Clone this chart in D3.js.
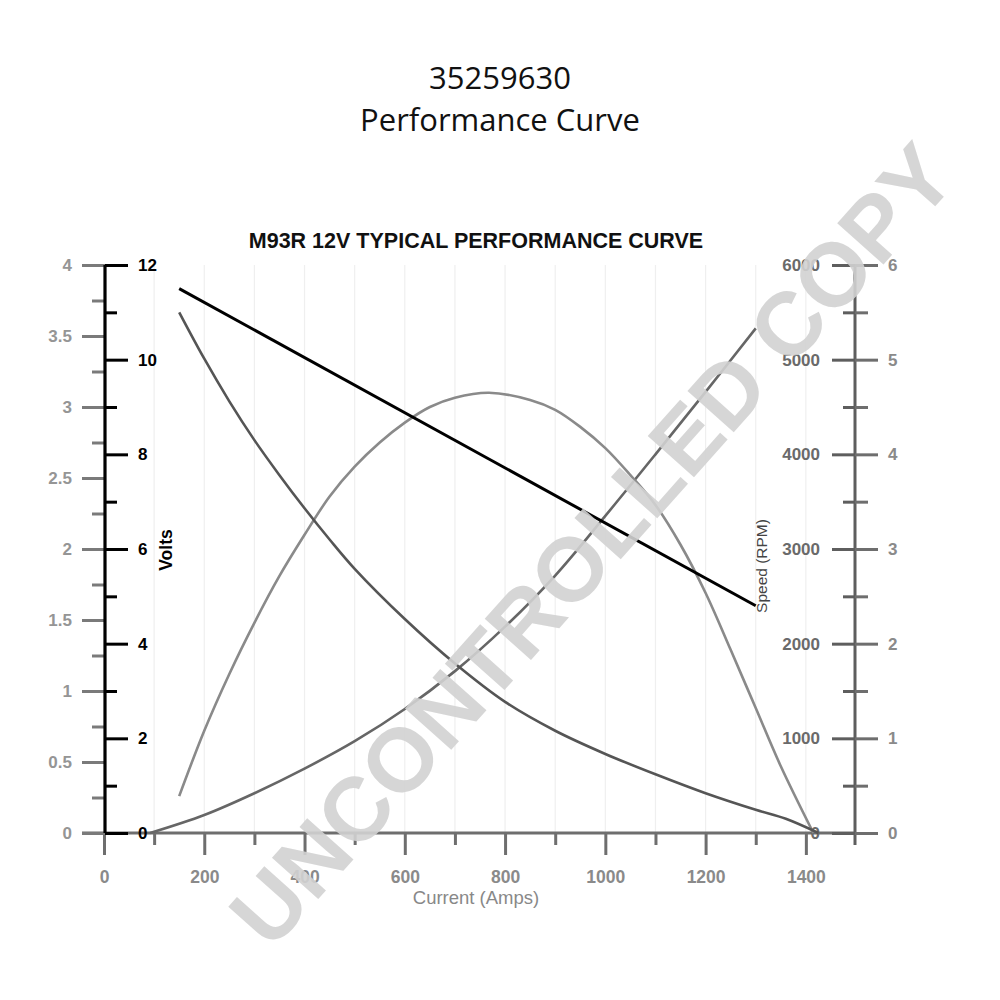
<!DOCTYPE html>
<html>
<head>
<meta charset="utf-8">
<script src="https://cdn.jsdelivr.net/npm/d3@7"></script>
<style>
  html, body { margin: 0; padding: 0; background: #fff; }
  svg { display: block; }
</style>
</head>
<body>
<svg id="chart" width="1000" height="1000"></svg>
<script>
// ---------- data ----------
const titleLines = ["35259630", "Performance Curve"];
const chartTitle = "M93R 12V TYPICAL PERFORMANCE CURVE";
const watermark = "UNCONTROLLED COPY";

const xTicksMajor = [0, 200, 400, 600, 800, 1000, 1200, 1400];
const xTicksMinor = [100, 300, 500, 700, 900, 1100, 1300];
const gridAmps = [100, 200, 300, 400, 500, 600, 700, 800, 900, 1000, 1100, 1200, 1300, 1400];
const leftTicksMajor = [0, 0.5, 1, 1.5, 2, 2.5, 3, 3.5, 4];
const leftTicksMinor = [0.25, 0.75, 1.25, 1.75, 2.25, 2.75, 3.25, 3.75];
const voltTicksMajor = [0, 2, 4, 6, 8, 10, 12];
const voltTicksMinor = [1, 3, 5, 7, 9, 11];
const rpmTicksMajor = [0, 1000, 2000, 3000, 4000, 5000, 6000];
const rpmTicksMinor = [500, 1500, 2500, 3500, 4500, 5500];
const rightTicksMajor = [0, 1, 2, 3, 4, 5, 6];

// Volts (left inner axis, 0-12)
const voltAmps = [150, 1300];
const voltValues = [11.5, 4.8];

// Speed RPM (right inner axis, 0-6000)
const speedAmps = [150, 200, 250, 300, 350, 400, 450, 500, 600, 700, 800, 900, 1000, 1100, 1200, 1300, 1360, 1425];
const speedValues = [5500, 5010, 4560, 4150, 3780, 3430, 3100, 2790, 2260, 1790, 1385, 1080, 835, 620, 420, 245, 150, 0];

// Power curve (left outer axis, 0-4)
const powerAmps = [150, 200, 250, 300, 350, 400, 450, 500, 550, 600, 650, 700, 768, 850, 900, 950, 1000, 1050, 1100, 1150, 1200, 1250, 1300, 1350, 1415];
const powerValues = [0.26, 0.72, 1.12, 1.48, 1.81, 2.10, 2.37, 2.58, 2.75, 2.89, 3.00, 3.065, 3.10, 3.05, 2.98, 2.86, 2.71, 2.52, 2.31, 2.03, 1.69, 1.29, 0.88, 0.47, 0];

// Torque curve (right outer axis, 0-6)
const torqueAmps = [92, 200, 300, 400, 500, 600, 700, 800, 900, 1000, 1100, 1200, 1300];
const torqueValues = [0, 0.19, 0.42, 0.68, 0.97, 1.31, 1.71, 2.18, 2.72, 3.35, 4.00, 4.66, 5.33];

// ---------- drawing ----------
const svg = d3.select("#chart");
const FONT = "'Liberation Sans', Arial, sans-serif";

const x = d3.scaleLinear().domain([0, 1500]).range([104, 856]);
const yTop = 265, yBot = 833;
const yL = d3.scaleLinear().domain([0, 4]).range([yBot, yTop]);
const yV = d3.scaleLinear().domain([0, 12]).range([yBot, yTop]);
const yS = d3.scaleLinear().domain([0, 6000]).range([yBot, yTop]);
const yR = d3.scaleLinear().domain([0, 6]).range([yBot, yTop]);

// Titles
svg.append("text").attr("x", 500).attr("y", 89).attr("text-anchor", "middle")
  .attr("font-family", "'Open Sans', sans-serif").attr("font-size", 31).attr("fill", "#111")
  .text(titleLines[0]);
svg.append("text").attr("x", 500).attr("y", 131).attr("text-anchor", "middle")
  .attr("font-family", "'Open Sans', sans-serif").attr("font-size", 31).attr("fill", "#111")
  .text(titleLines[1]);
svg.append("text").attr("x", 476).attr("y", 248).attr("text-anchor", "middle")
  .attr("font-family", FONT).attr("font-weight", "bold").attr("font-size", 21.5).attr("fill", "#111")
  .text(chartTitle);

// Gridlines
svg.append("g").selectAll("line").data(gridAmps).join("line")
  .attr("x1", d => x(d)).attr("x2", d => x(d))
  .attr("y1", yTop).attr("y2", yBot)
  .attr("stroke", "#efefef").attr("stroke-width", 1.2);

function styleAxis(g, color, width, fontColor, weight, size) {
  g.select(".domain").remove();
  g.selectAll(".tick line").attr("stroke", color).attr("stroke-width", width);
  g.selectAll(".tick text").attr("fill", fontColor).attr("font-family", FONT)
    .attr("font-weight", weight).attr("font-size", size);
}

// X axis
svg.append("line").attr("x1", 82).attr("x2", x(1500)).attr("y1", yBot).attr("y2", yBot)
  .attr("stroke", "#6e6e6e").attr("stroke-width", 3);
svg.append("g").attr("transform", `translate(0,${yBot})`)
  .call(d3.axisBottom(x).tickValues(xTicksMajor).tickSize(22).tickPadding(16).tickFormat(d3.format("d")))
  .call(g => styleAxis(g, "#6e6e6e", 3, "#8a8a8a", "bold", 17.5));
svg.append("g").attr("transform", `translate(0,${yBot})`)
  .call(d3.axisBottom(x).tickValues(xTicksMinor).tickSize(12).tickFormat(""))
  .call(g => styleAxis(g, "#6e6e6e", 3, "#8a8a8a", "bold", 17));
svg.append("text").attr("x", 476).attr("y", 904).attr("text-anchor", "middle")
  .attr("font-family", FONT).attr("font-size", 18.5).attr("fill", "#888")
  .text("Current (Amps)");

// Left outer gray axis (0-4)
const xAxisL = x(0) + 1;
svg.append("g").attr("transform", `translate(${xAxisL},0)`)
  .call(d3.axisLeft(yL).tickValues(leftTicksMajor).tickSize(23).tickPadding(10).tickFormat(d3.format("")))
  .call(g => styleAxis(g, "#7a7a7a", 3, "#959595", "bold", 17));
svg.append("g").attr("transform", `translate(${xAxisL},0)`)
  .call(d3.axisLeft(yL).tickValues(leftTicksMinor).tickSize(13).tickFormat(""))
  .call(g => styleAxis(g, "#7a7a7a", 3, "#959595", "bold", 17));

// Volts axis (black)
svg.append("line").attr("x1", xAxisL).attr("x2", xAxisL).attr("y1", yTop).attr("y2", yBot)
  .attr("stroke", "#000").attr("stroke-width", 3.2);
svg.append("g").attr("transform", `translate(${xAxisL},0)`)
  .call(d3.axisRight(yV).tickValues(voltTicksMajor).tickSize(23).tickPadding(10).tickFormat(d3.format("d")))
  .call(g => styleAxis(g, "#000", 3, "#000", "bold", 17));
svg.append("g").attr("transform", `translate(${xAxisL},0)`)
  .call(d3.axisRight(yV).tickValues(voltTicksMinor).tickSize(12).tickFormat(""))
  .call(g => styleAxis(g, "#000", 3, "#000", "bold", 17));
svg.append("text").attr("transform", `translate(172,550) rotate(-90)`).attr("text-anchor", "middle")
  .attr("font-family", FONT).attr("font-weight", "bold").attr("font-size", 17.5).attr("fill", "#000")
  .text("Volts");

// Right axis
const xAxisR = x(1500) - 1;
svg.append("line").attr("x1", xAxisR).attr("x2", xAxisR).attr("y1", yTop).attr("y2", yBot + 12)
  .attr("stroke", "#5e5e5e").attr("stroke-width", 3);
svg.append("g").attr("transform", `translate(${xAxisR},0)`)
  .call(d3.axisLeft(yS).tickValues(rpmTicksMajor).tickSize(23).tickPadding(12).tickFormat(d3.format("d")))
  .call(g => styleAxis(g, "#5e5e5e", 3, "#6a6a6a", "bold", 17));
svg.append("g").attr("transform", `translate(${xAxisR},0)`)
  .call(d3.axisLeft(yS).tickValues(rpmTicksMinor).tickSize(12).tickFormat(""))
  .call(g => styleAxis(g, "#5e5e5e", 3, "#6a6a6a", "bold", 17));
svg.append("g").attr("transform", `translate(${xAxisR},0)`)
  .call(d3.axisRight(yR).tickValues(rightTicksMajor).tickSize(23).tickPadding(10).tickFormat(d3.format("d")))
  .call(g => styleAxis(g, "#6e6e6e", 3, "#8a8a8a", "bold", 17));
svg.append("g").attr("transform", `translate(${xAxisR},0)`)
  .call(d3.axisRight(yS).tickValues(rpmTicksMinor).tickSize(13).tickFormat(""))
  .call(g => styleAxis(g, "#6e6e6e", 3, "#8a8a8a", "bold", 17));
svg.append("text").attr("transform", `translate(767,566) rotate(-90)`).attr("text-anchor", "middle")
  .attr("font-family", FONT).attr("font-size", 15.5).attr("fill", "#444")
  .text("Speed (RPM)");

// Curves
const mk = (xs, ys, yScale, curve) => d3.line()
  .x((d, i) => x(xs[i])).y(d => yScale(d)).curve(curve)(ys);
const smooth = d3.curveCatmullRom.alpha(0.5);

svg.append("path").attr("d", mk(torqueAmps, torqueValues, yR, smooth))
  .attr("fill", "none").attr("stroke", "#666").attr("stroke-width", 2.6);
svg.append("path").attr("d", mk(powerAmps, powerValues, yL, smooth))
  .attr("fill", "none").attr("stroke", "#8a8a8a").attr("stroke-width", 2.6);
svg.append("path").attr("d", mk(speedAmps, speedValues, yS, smooth))
  .attr("fill", "none").attr("stroke", "#555").attr("stroke-width", 2.6);
svg.append("path").attr("d", mk(voltAmps, voltValues, yV, d3.curveLinear))
  .attr("fill", "none").attr("stroke", "#000").attr("stroke-width", 3);

// Watermark
svg.append("text").attr("transform", "translate(592,545) rotate(-48.3)")
  .attr("text-anchor", "middle").attr("dominant-baseline", "central")
  .attr("font-family", FONT).attr("font-weight", "bold").attr("font-size", 90)
  .attr("fill", "#d2d2d2").attr("fill-opacity", 0.9)
  .text(watermark);
</script>
</body>
</html>
